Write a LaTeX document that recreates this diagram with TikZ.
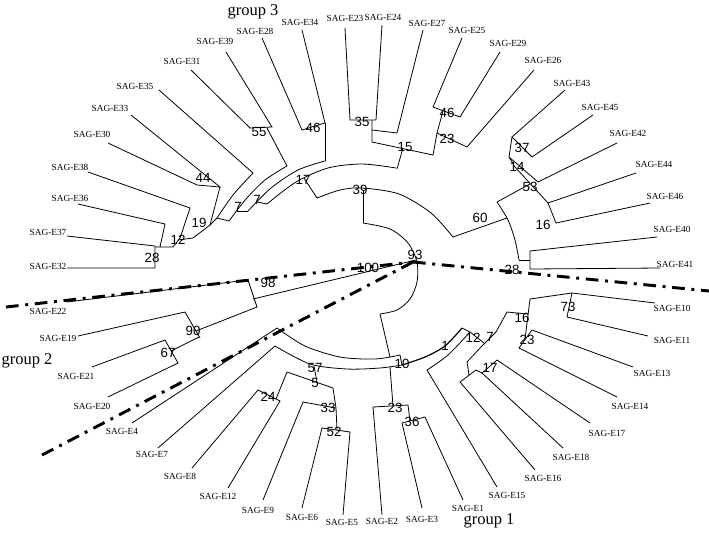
\documentclass[tikz,border=0pt]{standalone}
\usepackage{fontspec}
\setmainfont{Liberation Serif}
\newfontfamily\numfont{Liberation Sans}
\begin{document}
\begin{tikzpicture}[x=0.75pt,y=-0.75pt,
  br/.style={line width=0.6pt, line join=miter},
  leaf/.style={font=\fontsize{7}{8}\selectfont, inner sep=0pt},
  bs/.style={font=\numfont\fontsize{10}{11}\selectfont, inner sep=0pt},
  grp/.style={font=\fontsize{12.4}{14}\selectfont, inner sep=0pt},
  dd/.style={line width=2.2pt, dash pattern=on 9.5pt off 5pt on 2.2pt off 5pt}]
\useasboundingbox (0,0) rectangle (709,536);

% ---------- root region ----------
\draw[br] (363,190) -- (363,223);
\draw[br] plot[smooth] coordinates {(363,223) (390,229) (408,243) (417,262) (417,282) (410,299) (397,310) (380,314)};
\draw[br] (253,299) -- (416,260);
\draw[br] plot[smooth] coordinates {(317,198) (340,190) (362,188) (399,194) (431,213) (453,237)};

% ---------- right clade (60) ----------
\draw[br] (453,237) -- (507,218);
\draw[br] plot[smooth] coordinates {(497,202) (508,220) (515,240) (519,260)};
\draw[br] (519,260) -- (530,260);
\draw[br] (657,237) -- (530,251) -- (530,269) -- (660,268);
\draw[br] (497,202) -- (530,184);
\draw[br] (565,90) -- (512,137) -- (532,157) -- (593,115);
\draw[br] (512,137) -- (509,157) -- (538,182) -- (617,143);
\draw[br] (509,157) -- (515,167) -- (548,203) -- (636,173);
\draw[br] (548,203) -- (556,223) -- (650,203);

% ---------- group 3, top ----------
\draw[br] (345,28) -- (350,120) -- (376,120) -- (382,25);
\draw[br] (372,120) -- (372,130) -- (397,133);
\draw[br] (423,30) -- (397,133);
\draw[br] (372,130) -- (372,142) -- (433,155);
\draw[br] (403,148) -- (397,169);
\draw[br] (462,38) -- (433,107) -- (460,117) -- (500,52);
\draw[br] (443,111) -- (437,133) -- (467,147) -- (534,70);
\draw[br] (437,133) -- (433,155);

% ---------- group 3, left ----------
\draw[br] plot[smooth] coordinates {(267,204) (296,182) (328,168) (362,164) (396,168)};
\draw[br] (304,178) -- (317,198);
\draw[br] plot[smooth] coordinates {(248,211) (271,188) (298,170) (325,161)};
\draw[br] (257,202) -- (267,204);
\draw[br] plot[smooth] coordinates {(229,221) (246,199) (265,180) (287,166)};
\draw[br] (237,211) -- (248,211);
\draw[br] plot[smooth] coordinates {(217,218) (233,195) (253,173)};
\draw[br] (217,218) -- (229,221);
\draw[br] (210,225) -- (217,218);
\draw[br] (159,90) -- (253,173);
\draw[br] (302,30) -- (325,123) -- (302,130) -- (262,38);
\draw[br] (325,123) -- (325,161);
\draw[br] (226,52) -- (272,127) -- (250,128) -- (191,70);
\draw[br] (267,128) -- (287,166);
\draw[br] (108,143) -- (197,185) -- (220,187) -- (131,115);
\draw[br] (220,187) -- (210,225) -- (193,238) -- (178,240);
\draw[br] (88,172) -- (190,208) -- (180,238) -- (173,247) -- (160,247);
\draw[br] (78,204) -- (165,224) -- (160,247) -- (155,247);
\draw[br] (67,236) -- (155,246) -- (155,268) -- (67,268);

% ---------- group 2, upper ----------
\draw[br] (67,302) -- (248,280) -- (257,307) -- (196,331);
\draw[br] (78,336) -- (185,312) -- (200,338);
\draw[br] (199,337) -- (171,351);
\draw[br] (92,367) -- (165,340) -- (178,363) -- (108,397);

% ---------- group 2, lower ----------
\draw[br] (132,423) -- (277,328);
\draw[br] plot[smooth] coordinates {(277,328) (305,346) (340,357) (375,359) (400,355)};
\draw[br] plot[smooth] coordinates {(275,346) (310,364) (347,369) (380,368) (402,365)};
\draw[br] (400,355) -- (402,365);
\draw[br] (380,314) -- (390,357);
\draw[br] (390,367) -- (393,406);
\draw[br] (158,448) -- (275,346);
\draw[br] (314,366) -- (317,382);
\draw[br] (287,372) -- (333,388);
\draw[br] (192,468) -- (258,390) -- (280,401) -- (228,488);
\draw[br] (287,372) -- (276,399);
\draw[br] (263,500) -- (303,402) -- (336,408);
\draw[br] (333,388) -- (336,408) -- (337,430);
\draw[br] (302,508) -- (322,428) -- (350,432) -- (343,515);

% ---------- group 1 ----------
\draw[line width=0.9pt] plot[smooth] coordinates {(402,365) (425,357) (445,346) (462,328)};
\draw[br] (382,515) -- (373,407) -- (408,405) -- (410,421);
\draw[br] (422,508) -- (402,423) -- (425,417) -- (463,500);
\draw[br] plot[smooth] coordinates {(427,370) (448,355) (470,332)};
\draw[br] (497,487) -- (427,370);
\draw[br] (462,328) -- (470,332) -- (484,343);
\draw[br] plot[smooth] coordinates {(467,362) (482,346) (496,332)};
\draw[br] (535,470) -- (460,382) -- (476,370) -- (482,373);
\draw[br] (467,362) -- (469,375);
\draw[br] (563,448) -- (482,373) -- (497,360) -- (590,423);
\draw[br] (496,332) -- (507,312) -- (527,314);
\draw[br] (530,299) -- (525,339);
\draw[br] (530,299) -- (572,293) -- (655,303);
\draw[br] (572,293) -- (567,317) -- (648,336);
\draw[br] (633,367) -- (532,330) -- (519,348) -- (617,397);

% ---------- group separators ----------
\draw[dd] (6,307) -- (413,262);
\draw[dd] (413,262) -- (709,291);
\draw[dd] (42,455) -- (413,262);

% ---------- leaf labels ----------
\node[leaf] (l34) at (300,22) {SAG-E34};
\node[leaf] (l28) at (255,31) {SAG-E28};
\node[leaf] (l39) at (215,41) {SAG-E39};
\node[leaf] (l31) at (182,61) {SAG-E31};
\node[leaf] (l35) at (135,86) {SAG-E35};
\node[leaf] (l33) at (110,108) {SAG-E33};
\node[leaf] (l30) at (92,134) {SAG-E30};
\node[leaf] (l38) at (70,167) {SAG-E38};
\node[leaf] (l36) at (70,198) {SAG-E36};
\node[leaf] (l37) at (48,232) {SAG-E37};
\node[leaf] (l32) at (48,266) {SAG-E32};
\node[leaf] (l22) at (48,311) {SAG-E22};
\node[leaf] (l19) at (58,338) {SAG-E19};
\node[leaf] (l21) at (76,376) {SAG-E21};
\node[leaf] (l20) at (92,406) {SAG-E20};
\node[leaf] (l4) at (122,431) {SAG-E4};
\node[leaf] (l7) at (152,454) {SAG-E7};
\node[leaf] (l8) at (180,476) {SAG-E8};
\node[leaf] (l12) at (218,496) {SAG-E12};
\node[leaf] (l9) at (258,510) {SAG-E9};
\node[leaf] (l6) at (302,517) {SAG-E6};
\node[leaf] (l5) at (342,522) {SAG-E5};
\node[leaf] (l2) at (382,521) {SAG-E2};
\node[leaf] (l3) at (422,519) {SAG-E3};
\node[leaf] (l1) at (468,508) {SAG-E1};
\node[leaf] (l15) at (507,495) {SAG-E15};
\node[leaf] (l16) at (543,478) {SAG-E16};
\node[leaf] (l18) at (571,457) {SAG-E18};
\node[leaf] (l17) at (607,433) {SAG-E17};
\node[leaf] (l14) at (630,406) {SAG-E14};
\node[leaf] (l13) at (652,373) {SAG-E13};
\node[leaf] (l11) at (672,340) {SAG-E11};
\node[leaf] (l10) at (672,308) {SAG-E10};
\node[leaf] (l41) at (675,264) {SAG-E41};
\node[leaf] (l40) at (672,229) {SAG-E40};
\node[leaf] (l46) at (665,196) {SAG-E46};
\node[leaf] (l44) at (654,164) {SAG-E44};
\node[leaf] (l42) at (628,133) {SAG-E42};
\node[leaf] (l45) at (600,107) {SAG-E45};
\node[leaf] (l43) at (572,83) {SAG-E43};
\node[leaf] (l26) at (543,60) {SAG-E26};
\node[leaf] (l29) at (508,43) {SAG-E29};
\node[leaf] (l25) at (467,30) {SAG-E25};
\node[leaf] (l27) at (427,23) {SAG-E27};
\node[leaf] (l24) at (383,17) {SAG-E24};
\node[leaf] (l23) at (345,18) {SAG-E23};

% ---------- bootstrap values ----------
\node[bs] (b39) at (360,190) {39};
\node[bs] (b17) at (303,180) {17};
\node[bs] (b15) at (405,147) {15};
\node[bs] (b35) at (362,122) {35};
\node[bs] (b46a) at (447,113) {46};
\node[bs] (b23a) at (447,139) {23};
\node[bs] (b37) at (522,148) {37};
\node[bs] (b14) at (517,167) {14};
\node[bs] (b53) at (530,187) {53};
\node[bs] (b60) at (480,218) {60};
\node[bs] (b16a) at (543,225) {16};
\node[bs] (b28a) at (512,270) {28};
\node[bs] (b93) at (415,255) {93};
\node[bs] (b100) at (368,268) {100};
\node[bs] (b98) at (268,283) {98};
\node[bs] (b90) at (193,331) {90};
\node[bs] (b67) at (168,353) {67};
\node[bs] (b57) at (315,368) {57};
\node[bs] (b5) at (315,383) {5};
\node[bs] (b24) at (268,397) {24};
\node[bs] (b33) at (328,408) {33};
\node[bs] (b52) at (334,432) {52};
\node[bs] (b10) at (402,364) {10};
\node[bs] (b1) at (445,346) {1};
\node[bs] (b12) at (473,338) {12};
\node[bs] (b7c) at (490,337) {7};
\node[bs] (b16b) at (522,318) {16};
\node[bs] (b73) at (568,307) {73};
\node[bs] (b23b) at (527,340) {23};
\node[bs] (b17b) at (490,368) {17};
\node[bs] (b23c) at (395,408) {23};
\node[bs] (b36) at (412,422) {36};
\node[bs] (b44) at (203,178) {44};
\node[bs] (b55) at (259,132) {55};
\node[bs] (b46b) at (313,128) {46};
\node[bs] (b19) at (199,223) {19};
\node[bs] (b12b) at (178,240) {12};
\node[bs] (b28b) at (152,258) {28};
\node[bs] (b7a) at (238,207) {7};
\node[bs] (b7b) at (257,200) {7};

% ---------- group labels ----------
\node[grp] (g3) at (253,12) {group 3};
\node[grp] (g2) at (27,361) {group 2};
\node[grp] (g1) at (489,521) {group 1};
\end{tikzpicture}
\end{document}
